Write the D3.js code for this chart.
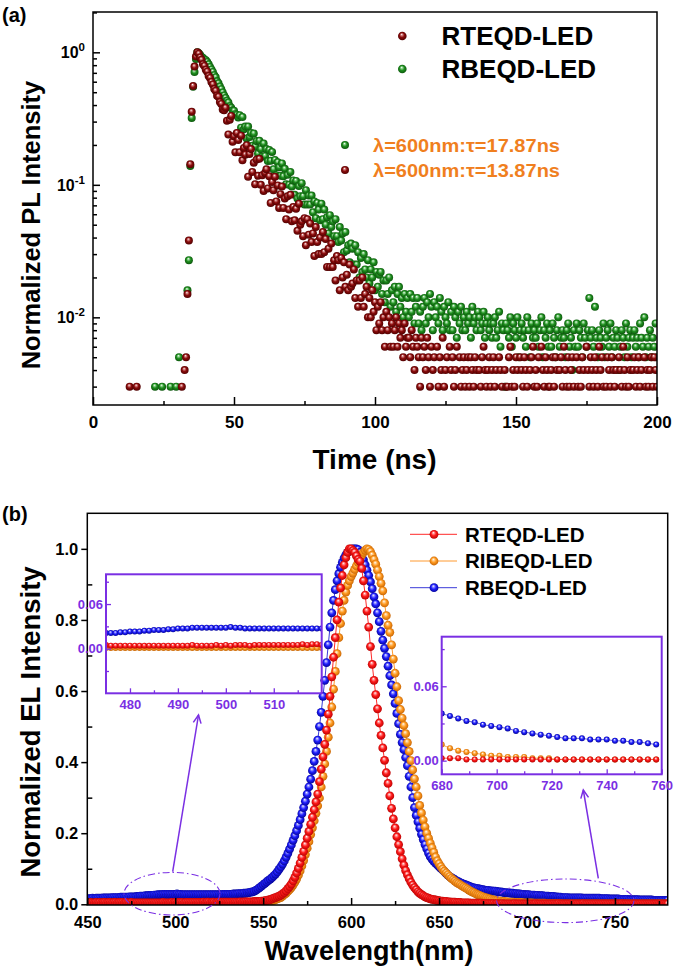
<!DOCTYPE html>
<html><head><meta charset="utf-8">
<script src="https://cdn.jsdelivr.net/npm/d3@7"></script>
<style>
body{margin:0;background:#fff}
text{font-family:"Liberation Sans",Arial,sans-serif;font-weight:bold}
</style>
</head><body>
<script>
// ---------------- DATA ----------------
// (a) time-resolved PL, normalized intensity x1000, sampled every 0.5 ns from 12 ns
const plSeriesNames = ["RTEQD-LED", "RBEQD-LED"];
const plTimeStart = 12, plTimeStep = 0.5;
const plRTEQD = [
0,0,3,0,0,0,0,3,0,0, 0,0,0,0,0,0,0,0,0,0, 0,0,0,0,0,0,0,0,0,0, 0,0,0,0,0,0,0,0,0,3,
0,4,5,15,38,143,356,556,780,930, 1000,975,915,878,812,790,738,715,662,641,
598,572,528,512,470,462,421,408,371,366, 381,304,240,310,331,211,233,176,246,218,
176,235,153,190,169,199,115,171,186,125, 147,101,155,117,157,100,118,90,123,131,
94,116,73,105,91,115,75,99,67,85, 97,67,79,55,82,65,84,53,68,54,
66,45,72,50,53,41,56,35,55,42, 51,37,43,29,48,37,30,40,30,44,
31,39,24,33,24,36,24,27,19,29, 27,16,28,20,26,17,21,16,25,17,
18,23,14,19,12,19,14,20,12,15, 17,10,14,10,16,11,13,8,12,9,
13,8,10,6,11,8,10,6,9,6, 8,10,6,9,7,8,5,9,6,7,
7,5,8,6,4,7,6,5,3,7, 5,6,4,7,5,3,6,4,5,2,
6,3,5,4,7,3,4,5,2,6, 4,5,3,4,6,2,5,3,4,5,
3,4,5,3,5,4,3,5,4,2, 4,3,5,6,4,3,4,5,3,4,
5,3,4,2,5,4,3,2,4,3, 3,5,6,3,4,3,5,4,2,5,
4,3,5,4,3,1,4,5,6,3, 4,3,5,2,6,4,3,5,4,3,
3,4,5,3,5,4,2,4,5,3, 6,4,3,5,3,4,5,3,2,5,
3,4,3,5,4,2,6,4,3,5, 4,3,5,4,3,6,4,5,3,2,
3,5,4,3,5,4,3,4,2,5, 4,3,6,4,3,5,3,4,2,4,
5,3,4,5,3,4,2,5,3,4, 3,4,5,3,5,4,3];
const plRBEQD = [
0,0,0,0,0,0,0,0,0,0, 0,0,0,0,0,0,0,0,0,0, 3,0,0,0,0,3,0,0,0,0, 0,3,0,0,0,3,0,5,0,0,
0,0,0,16,27,139,320,550,710,890, 1000,982,955,921,905,884,872,846,812,775,
742,711,672,648,604,583,551,527,498,472, 452,431,418,392,381,365,362,341,337,322,
335,270,325,263,275,224,275,230,246,197, 244,195,214,172,215,186,163,205,165,186,
151,183,152,177,131,154,118,148,136,117, 145,116,132,101,119,100,125,97,108,84,
107,79,98,82,103,82,71,91,71,83, 71,83,62,75,56,73,65,54,72,55,
65,50,57,43,59,48,53,41,55,41, 37,48,38,43,31,44,32,35,26,36,
33,25,35,25,31,20,28,22,30,23, 20,27,18,23,20,26,16,22,17,21,
22,15,19,13,19,15,20,12,16,13, 17,11,15,17,12,14,10,15,11,14,
10,15,11,14,9,12,14,9,11,8, 12,14,9,13,10,15,12,8,13,10,
12,9,14,11,8,12,10,9,13,8, 11,8,12,10,7,11,9,12,8,10,
8,11,9,10,7,12,9,10,8,11, 10,8,9,11,7,9,10,8,9,7,
9,10,7,8,11,6,9,8,3,9, 8,7,10,6,9,8,7,10,5,8,
9,7,8,6,10,8,5,9,7,8, 7,9,6,8,10,5,8,7,9,6,
8,6,9,7,5,8,10,6,7,8, 7,5,8,9,6,7,4,8,6,9,
6,8,7,5,9,7,6,8,14,7, 8,6,12,7,5,8,7,6,9,5,
7,8,6,9,5,7,6,8,7,4, 6,8,7,5,9,6,7,8,5,7,
8,6,7,5,9,7,6,10,5,7, 6,8,5,7,6,9,5];
const plXTicks = [0, 50, 100, 150, 200];
const plYTicks = [0.01, 0.1, 1];
const plLifetimeLabels = ["\u03bb=600nm:\u03c4=17.87ns", "\u03bb=600nm:\u03c4=13.87ns"];

// (b) EL spectra, normalized intensity x1000, every 1 nm from 450 nm
const elSeriesNames = ["RTEQD-LED", "RIBEQD-LED", "RBEQD-LED"];
const elWlStart = 450, elWlStep = 1;
const elRTEQD = [
4,4,5,4,4,5,4,5,4,5, 5,4,5,5,4,5,5,4,5,5, 5,4,5,4,4,5,4,4,4,4, 4,4,4,4,4,4,4,4,4,4,
4,4,4,5,4,4,4,4,5,4, 5,4,5,5,5,4,5,5,5,5, 5,5,5,5,5,5,6,5,6,6, 5,6,6,5,6,6,6,6,6,6,
6,6,6,6,6,6,6,7,6,7, 7,7,7,7,7,8,8,8,8,9, 9,10,11,12,13,15,17,19,21,23,
26,29,33,38,44,50,57,66,76,88, 101,116,132,149,167,186,205,225,245,266,
288,310,345,380,415,450,490,535,585,640, 695,750,800,850,890,925,955,975,990,1000,
1000,995,990,980,970,965,945,910,870,825, 780,725,675,630,590,550,510,475,440,405,
370,340,305,270,240,215,190,168,148,128, 110,95,83,72,62,54,47,41,35,31,
27,24,21,19,17,15,14,13,12,11, 10,9,9,8,8,7,7,6,6,6, 5,5,5,4,4,4,4,4,3,3,
3,3,3,3,3,2,2,2,2,2, 2,2,1,2,1,1,2,1,1,1, 1,1,1,2,1,1,1,1,1,1,
1,1,1,1,1,2,1,1,1,1, 1,1,1,1,1,1,1,1,2,1, 1,1,1,1,1,1,1,1,1,1,
1,1,2,1,1,1,1,1,1,1, 1,1,1,1,1,1,1,1,1,1, 1,1,1,1,2,1,1,1,1,1,
1,1,1,1,1,1,1,1,1,1, 1,1,1,1,1,1,1,1,1,1,1];
const elRIBEQD = [
1,1,1,1,1,1,1,1,1,1, 1,1,1,1,1,1,1,1,1,1, 1,1,1,1,1,1,1,1,1,1, 1,1,1,1,1,1,1,1,1,1,
1,1,1,1,1,1,1,1,1,1, 1,1,1,1,1,1,1,1,1,1, 1,1,1,1,1,1,1,1,1,1, 1,1,1,1,1,1,1,2,1,1,
1,1,2,1,2,2,2,2,2,2, 2,2,2,2,3,3,3,4,4,5, 5,6,7,8,9,10,11,13,15,17,
19,23,27,31,36,41,47,54,62,71, 82,94,108,123,140,158,176,196,215,235,
256,277,299,330,360,395,430,470,510,555, 605,655,705,750,790,825,855,878,897,910,
922,932,942,952,962,972,982,990,996,1000, 998,992,982,970,957,940,922,903,882,848,
812,785,765,730,690,650,612,573,548,524, 503,480,455,430,404,378,353,330,305,278,
257,237,218,200,186,172,159,146,133,122, 114,106,99,93,88,83,78,73,69,65,
61,58,55,52,49,46,43,40,37,34, 32,29,27,25,23,21,19,18,16,15,
13,12,11,10,9,9,8,8,7,7, 6,6,6,5,5,5,5,5,4,4, 4,4,4,4,3,3,3,3,3,3,
3,2,2,2,2,2,2,2,2,2, 1,1,1,1,1,1,1,1,1,1, 1,1,1,1,1,1,1,1,1,1,
1,1,1,1,1,1,1,1,1,1, 1,1,1,1,1,1,1,1,1,1, 1,1,1,1,1,1,1,1,1,1,
1,1,1,1,1,1,1,1,1,1,1];
const elRBEQD = [
16,16,16,17,16,17,17,17,17,18, 18,18,18,18,19,19,19,19,19,20, 20,20,20,20,21,21,21,21,22,22,
23,23,23,24,24,25,25,25,26,26, 27,27,27,28,28,28,28,28,28,28, 28,29,28,28,27,27,27,27,27,27,
27,27,27,27,27,27,27,27,27,27, 27,27,27,27,27,27,27,28,28,28, 28,28,28,29,29,29,30,30,30,31,
31,32,33,34,35,37,40,43,47,51, 55,59,63,67,71,75,80,85,91,98,
105,113,122,132,143,155,167,180,193,207, 222,238,255,272,290,310,330,352,376,402,
430,462,500,540,585,630,680,730,780,820, 855,885,910,930,948,962,974,983,990,995,
998,1000,1000,1000,998,990,980,969,955,940, 925,907,888,865,845,820,795,768,743,720,
697,670,643,617,592,565,537,508,478,455, 435,413,390,360,330,300,272,250,232,214,
197,182,168,156,144,134,127,121,116,111, 106,101,97,92,87,82,78,75,72,69,
66,64,61,59,57,55,53,51,49,47, 46,45,44,43,42,41,40,39,39,38,
38,37,37,36,35,35,34,33,33,32, 32,31,31,30,30,29,29,28,28,27,
27,27,26,26,26,25,25,24,24,24, 23,23,23,22,22,22,21,21,20,20,
19,19,19,19,18,18,18,18,18,18, 18,18,17,17,17,17,17,17,17,17,
17,17,16,16,16,16,16,15,15,15, 15,15,15,14,14,14,14,14,13,13,
13,13,13,13,12,12,12,12,12,12, 12,12,11,11,11,11,11,11,11,11,11];
const elXTicks = [450, 500, 550, 600, 650, 700, 750];
const elYTicks = [0, 0.2, 0.4, 0.6, 0.8, 1.0];
const insetLeftXTicks = [480, 490, 500, 510];
const insetRightXTicks = [680, 700, 720, 740, 760];
const insetYTicks = [0, 0.06];

// ---------------- DRAWING ----------------
const W = 675, H = 970;
const svg = d3.select("body").append("svg").attr("width", W).attr("height", H);
const defs = svg.append("defs");
const FONT = '"Liberation Sans", Arial, sans-serif';
const PURPLE = "#7a2fe3";

function sphere(id, light, base, dark) {
  const g = defs.append("radialGradient").attr("id", id)
    .attr("cx", "50%").attr("cy", "50%").attr("r", "55%").attr("fx", "42%").attr("fy", "30%");
  g.append("stop").attr("offset", "0%").attr("stop-color", "#ffffff");
  g.append("stop").attr("offset", "18%").attr("stop-color", light);
  g.append("stop").attr("offset", "50%").attr("stop-color", base);
  g.append("stop").attr("offset", "100%").attr("stop-color", dark);
}
sphere("gPLred", "#d88a8a", "#8a0c0c", "#4a0000");
sphere("gPLgreen", "#9ad89a", "#1f8f1f", "#0a500a");
sphere("gELred", "#ffa0a0", "#ff1a1a", "#b00000");
sphere("gELorange", "#ffd6a0", "#ff9a20", "#c05e00");
sphere("gELblue", "#a0a0ff", "#2020ff", "#00008a");

function txt(g, x, y, s, size, opts = {}) {
  return g.append("text").attr("x", x).attr("y", y).attr("font-size", size)
    .attr("font-family", FONT).attr("font-weight", "bold")
    .attr("text-anchor", opts.anchor || "start").attr("fill", opts.fill || "#000")
    .text(s);
}

// ===== (a) =====
const pa = {l: 93, r: 657, t: 12, b: 405};
const xT = d3.scaleLinear().domain([0, 200]).range([pa.l, pa.r]);
const yT = d3.scaleLog().domain([0.00218, 2.015]).range([pa.b, pa.t]);
defs.append("clipPath").attr("id", "clipA").append("rect")
  .attr("x", pa.l).attr("y", pa.t).attr("width", pa.r - pa.l).attr("height", pa.b - pa.t);

function plPoints(arr) {
  return arr.map((c, i) => ({t: plTimeStart + i * plTimeStep, v: c / 1000}))
    .filter(d => d.v >= yT.domain()[0]);
}
const gA = svg.append("g").attr("clip-path", "url(#clipA)");
[[plRBEQD, "gPLgreen"], [plRTEQD, "gPLred"]].forEach(([arr, grad]) => {
  gA.append("g").selectAll("circle").data(plPoints(arr)).join("circle")
    .attr("cx", d => xT(d.t)).attr("cy", d => yT(d.v)).attr("r", 4)
    .attr("fill", `url(#${grad})`);
});

// axes (a)
function styleAxis(g) {
  g.select(".domain").remove();
  g.selectAll("line").attr("stroke", "#000").attr("stroke-width", 1.5);
}
svg.append("g").attr("transform", `translate(0,${pa.b})`)
  .call(d3.axisBottom(xT).tickValues(plXTicks).tickSizeInner(-8).tickSizeOuter(0).tickPadding(11))
  .call(styleAxis)
  .call(g => g.selectAll("text").attr("font-size", 17).attr("font-family", FONT).attr("font-weight", "bold").attr("fill", "#000"));
svg.append("g").attr("transform", `translate(0,${pa.b})`)
  .call(d3.axisBottom(xT).tickValues([25, 75, 125, 175]).tickSizeInner(-4).tickSizeOuter(0).tickFormat(""))
  .call(styleAxis);
const plMinor = [];
[0.001, 0.01, 0.1, 1].forEach(dec => { for (let k = 2; k <= 9; k++) { const v = k * dec; if (v > yT.domain()[0] && v < yT.domain()[1]) plMinor.push(v); } });
svg.append("g").attr("transform", `translate(${pa.l},0)`)
  .call(d3.axisLeft(yT).tickValues(plYTicks).tickSizeInner(-7).tickSizeOuter(0).tickFormat(""))
  .call(styleAxis);
svg.append("g").attr("transform", `translate(${pa.l},0)`)
  .call(d3.axisLeft(yT).tickValues(plMinor).tickSizeInner(-4).tickSizeOuter(0).tickFormat(""))
  .call(styleAxis);
plYTicks.forEach(v => {
  const t = svg.append("text").attr("x", pa.l - 8).attr("y", yT(v) + 6).attr("text-anchor", "end")
    .attr("font-family", FONT).attr("font-weight", "bold").attr("font-size", 16);
  t.append("tspan").text("10");
  t.append("tspan").attr("dy", -7).attr("font-size", 11.5).text(String(Math.round(Math.log10(v))));
});
svg.append("rect").attr("x", pa.l).attr("y", pa.t).attr("width", pa.r - pa.l).attr("height", pa.b - pa.t)
  .attr("fill", "none").attr("stroke", "#000").attr("stroke-width", 1.5);

txt(svg, 374.5, 469, "Time (ns)", 28, {anchor: "middle"});
txt(svg, 0, 0, "Normalized PL Intensity", 25.5, {anchor: "middle"})
  .attr("transform", "translate(40,225) rotate(-90)");
txt(svg, 2, 22, "(a)", 20);

// legend (a)
[["gPLred", 36, 45], ["gPLgreen", 69, 78.3]].forEach(([grad, cy, by], i) => {
  svg.append("circle").attr("cx", 402.3).attr("cy", cy).attr("r", 4.3).attr("fill", `url(#${grad})`);
  txt(svg, 441.5, by, plSeriesNames[i], 26);
});
[["gPLgreen", 145, 151.7], ["gPLred", 170, 176.7]].forEach(([grad, cy, by], i) => {
  svg.append("circle").attr("cx", 345).attr("cy", cy).attr("r", 4).attr("fill", `url(#${grad})`);
  txt(svg, 373, by, plLifetimeLabels[i], 18, {fill: "#f07f1e"}).attr("textLength", 187).attr("lengthAdjust", "spacingAndGlyphs");
});

// ===== (b) =====
const pb = {l: 87.3, r: 667.7, t: 513.3, b: 905};
const xB = d3.scaleLinear().domain([450, 780]).range([pb.l, pb.r]);
const yB = d3.scaleLinear().domain([-0.002, 1.1]).range([pb.b, pb.t]);
defs.append("clipPath").attr("id", "clipB").append("rect")
  .attr("x", pb.l).attr("y", pb.t).attr("width", pb.r - pb.l).attr("height", pb.b - pb.t);

function elPoints(arr) {
  return arr.map((c, i) => ({w: elWlStart + i * elWlStep, v: c / 1000}));
}
const elStyles = [
  {data: elRBEQD, grad: "gELblue", line: "#3a3ad8"},
  {data: elRIBEQD, grad: "gELorange", line: "#ff9a30"},
  {data: elRTEQD, grad: "gELred", line: "#ff2a2a"}
];
const gB = svg.append("g").attr("clip-path", "url(#clipB)");
elStyles.forEach(s => {
  const pts = elPoints(s.data);
  gB.append("path").datum(pts).attr("fill", "none").attr("stroke", s.line).attr("stroke-width", 1)
    .attr("d", d3.line().x(d => xB(d.w)).y(d => yB(d.v)));
  gB.append("g").selectAll("circle").data(pts).join("circle")
    .attr("cx", d => xB(d.w)).attr("cy", d => yB(d.v)).attr("r", 4.4)
    .attr("fill", `url(#${s.grad})`);
});

svg.append("g").attr("transform", `translate(0,${pb.b})`)
  .call(d3.axisBottom(xB).tickValues(elXTicks).tickSizeInner(-7).tickSizeOuter(0).tickPadding(11.5))
  .call(styleAxis)
  .call(g => g.selectAll("text").attr("font-size", 16.5).attr("font-family", FONT).attr("font-weight", "bold").attr("fill", "#000"));
svg.append("g").attr("transform", `translate(0,${pb.b})`)
  .call(d3.axisBottom(xB).tickValues([475, 525, 575, 625, 675, 725, 775]).tickSizeInner(-4).tickSizeOuter(0).tickFormat(""))
  .call(styleAxis);
svg.append("g").attr("transform", `translate(${pb.l},0)`)
  .call(d3.axisLeft(yB).tickValues(elYTicks).tickSizeInner(6).tickSizeOuter(0).tickPadding(3).tickFormat(d3.format(".1f")))
  .call(styleAxis)
  .call(g => g.selectAll("text").attr("font-size", 16.5).attr("font-family", FONT).attr("font-weight", "bold").attr("fill", "#000"));
svg.append("g").attr("transform", `translate(${pb.l},0)`)
  .call(d3.axisLeft(yB).tickValues([0.1, 0.3, 0.5, 0.7, 0.9]).tickSizeInner(-5).tickSizeOuter(0).tickFormat(""))
  .call(styleAxis);
svg.append("rect").attr("x", pb.l).attr("y", pb.t).attr("width", pb.r - pb.l).attr("height", pb.b - pb.t)
  .attr("fill", "none").attr("stroke", "#000").attr("stroke-width", 1.5);

txt(svg, 369, 960, "Wavelength(nm)", 27, {anchor: "middle"});
txt(svg, 0, 0, "Normalized EL Intensity", 27.5, {anchor: "middle"})
  .attr("transform", "translate(40,722) rotate(-90)");
txt(svg, 2, 521, "(b)", 20);

// legend (b)
[elStyles[2], elStyles[1], elStyles[0]].forEach((s, i) => {
  const cy = 534.3 + i * 26.7;
  svg.append("line").attr("x1", 410).attr("x2", 457).attr("y1", cy).attr("y2", cy)
    .attr("stroke", s.line).attr("stroke-width", 1);
  svg.append("circle").attr("cx", 434).attr("cy", cy).attr("r", 4.4).attr("fill", `url(#${s.grad})`);
  txt(svg, 465, cy + 7.4, elSeriesNames[i], 20.5);
});

// insets
function inset(id, box, xDom, yDom, xTicks, xMinor, yMinor, filterFn) {
  const xs = d3.scaleLinear().domain(xDom).range([box.l, box.r]);
  const ys = d3.scaleLinear().domain(yDom).range([box.b, box.t]);
  defs.append("clipPath").attr("id", id).append("rect")
    .attr("x", box.l).attr("y", box.t).attr("width", box.r - box.l).attr("height", box.b - box.t);
  const g = svg.append("g").attr("clip-path", `url(#${id})`);
  elStyles.forEach(s => {
    const pts = elPoints(s.data).filter(filterFn);
    g.append("path").datum(pts).attr("fill", "none").attr("stroke", s.line).attr("stroke-width", 0.8)
      .attr("d", d3.line().x(d => xs(d.w)).y(d => ys(d.v)));
    g.append("g").selectAll("circle").data(pts).join("circle")
      .attr("cx", d => xs(d.w)).attr("cy", d => ys(d.v)).attr("r", 3)
      .attr("fill", `url(#${s.grad})`);
  });
  const pStyle = ax => { ax.select(".domain").remove(); ax.selectAll("line").attr("stroke", PURPLE).attr("stroke-width", 1.3); };
  svg.append("g").attr("transform", `translate(0,${box.b})`)
    .call(d3.axisBottom(xs).tickValues(xTicks).tickSizeInner(-5).tickSizeOuter(0).tickPadding(6))
    .call(pStyle)
    .call(ax => ax.selectAll("text").attr("font-size", 13).attr("font-family", FONT).attr("font-weight", "bold").attr("fill", PURPLE));
  svg.append("g").attr("transform", `translate(0,${box.b})`)
    .call(d3.axisBottom(xs).tickValues(xMinor).tickSizeInner(-3).tickSizeOuter(0).tickFormat(""))
    .call(pStyle);
  svg.append("g").attr("transform", `translate(${box.l},0)`)
    .call(d3.axisLeft(ys).tickValues(insetYTicks).tickSizeInner(-5).tickSizeOuter(0).tickPadding(3).tickFormat(d3.format(".2f")))
    .call(pStyle)
    .call(ax => ax.selectAll("text").attr("font-size", 13).attr("font-family", FONT).attr("font-weight", "bold").attr("fill", PURPLE));
  svg.append("g").attr("transform", `translate(${box.l},0)`)
    .call(d3.axisLeft(ys).tickValues(yMinor).tickSizeInner(-3).tickSizeOuter(0).tickFormat(""))
    .call(pStyle);
  svg.append("rect").attr("x", box.l).attr("y", box.t).attr("width", box.r - box.l).attr("height", box.b - box.t)
    .attr("fill", "none").attr("stroke", PURPLE).attr("stroke-width", 2);
}
inset("clipL", {l: 106, r: 321.7, t: 574.3, b: 693.3}, [475, 520], [-0.06, 0.10],
  insetLeftXTicks, [485, 495, 505, 515], [-0.03, 0.03, 0.09], d => d.w >= 474 && d.w <= 521);
inset("clipR", {l: 441.7, r: 661.7, t: 636.7, b: 774.3}, [680, 760], [-0.011, 0.10],
  insetRightXTicks, [690, 710, 730, 750], [0.03, 0.09], d => d.w >= 680 && d.w <= 760 && (d.w - 680) % 3 === 0);

// call-outs
function arrow(x1, y1, x2, y2) {
  svg.append("line").attr("x1", x1).attr("y1", y1).attr("x2", x2).attr("y2", y2)
    .attr("stroke", PURPLE).attr("stroke-width", 1.5);
  const a = Math.atan2(y2 - y1, x2 - x1), L = 9, s = 0.45;
  const p = [[x2 - L * Math.cos(a - s), y2 - L * Math.sin(a - s)], [x2, y2], [x2 - L * Math.cos(a + s), y2 - L * Math.sin(a + s)]];
  svg.append("polyline").attr("points", p.map(q => q.join(",")).join(" "))
    .attr("fill", "none").attr("stroke", PURPLE).attr("stroke-width", 1.5);
}
svg.append("ellipse").attr("cx", 172).attr("cy", 893.7).attr("rx", 48).attr("ry", 21.3)
  .attr("fill", "none").attr("stroke", PURPLE).attr("stroke-width", 1.1).attr("stroke-dasharray", "7,3,1.5,3");
svg.append("ellipse").attr("cx", 565.3).attr("cy", 900.8).attr("rx", 68.7).attr("ry", 21.8)
  .attr("fill", "none").attr("stroke", PURPLE).attr("stroke-width", 1.1).attr("stroke-dasharray", "7,3,1.5,3");
arrow(172.7, 871.7, 198.5, 715);
arrow(598.3, 878.3, 583.3, 790);
</script>
</body></html>
